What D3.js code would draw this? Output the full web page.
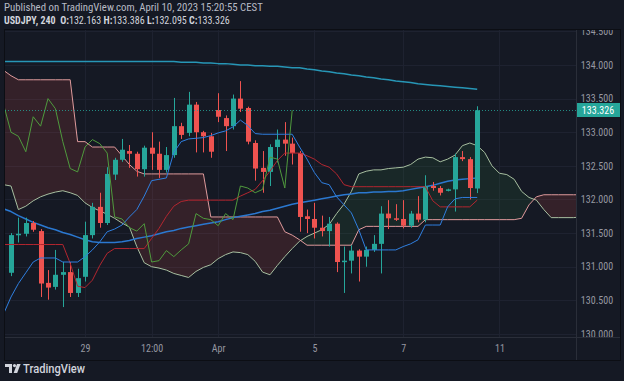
<!DOCTYPE html>
<html>
<head>
<meta charset="utf-8">
<script src="https://cdn.jsdelivr.net/npm/d3@7"></script>
<style>
  html, body { margin: 0; padding: 0; background: #151924; }
  svg { display: block; }
</style>
</head>
<body>
<svg width="624" height="381"></svg>
<script>
(function (d3) {
  'use strict';

  // candles, index 0..63 (4h bars)
  const opens = [130.91, 131.47, 131.49, 131.65, 131.53, 130.76, 130.70, 130.88, 130.92, 130.61,
    130.85, 131.47, 131.89, 131.65, 132.37, 132.59, 132.72, 132.68, 132.45, 132.77,
    132.68, 132.44, 132.66, 133.09, 132.99, 133.41, 133.00, 132.94, 133.33, 133.21,
    133.09, 133.50, 133.36, 132.84, 132.47, 132.41, 132.78, 132.89, 132.83, 132.69,
    131.75, 131.71, 131.58, 131.53, 131.64, 131.07, 131.09, 131.24, 131.15, 131.25,
    131.34, 131.79, 131.72, 131.71, 131.61, 131.79, 131.70, 132.20, 132.17, 132.13,
    132.15, 132.63, 132.60, 132.163];
  const highs = [131.50, 131.73, 131.73, 131.68, 131.56, 130.95, 131.25, 131.07, 131.07, 130.97,
    131.67, 131.95, 132.10, 132.48, 132.62, 132.90, 132.81, 132.71, 132.80, 133.00,
    132.86, 132.78, 133.51, 133.14, 133.60, 133.45, 133.02, 132.99, 133.58, 133.25,
    133.56, 133.76, 133.38, 132.88, 132.72, 132.82, 133.04, 133.15, 132.92, 132.72,
    131.85, 131.95, 131.76, 131.74, 131.66, 131.30, 131.32, 131.26, 131.30, 131.47,
    131.90, 131.99, 131.93, 131.99, 131.83, 132.05, 132.36, 132.26, 132.20, 132.16,
    132.68, 132.72, 132.63, 133.386];
  const lows = [130.86, 131.36, 131.45, 131.52, 130.55, 130.51, 130.66, 130.40, 130.55, 130.55,
    130.78, 131.42, 131.58, 131.62, 132.29, 132.56, 132.47, 132.34, 132.34, 132.44,
    132.32, 132.40, 132.62, 132.90, 132.94, 132.70, 132.70, 132.62, 133.15, 132.72,
    133.04, 133.30, 132.82, 132.28, 132.10, 132.20, 132.55, 132.65, 132.52, 131.52,
    131.50, 131.42, 131.45, 131.30, 130.92, 130.61, 130.90, 130.78, 131.00, 131.22,
    130.90, 131.56, 131.68, 131.57, 131.58, 131.66, 131.66, 132.13, 132.06, 132.12,
    131.82, 132.57, 132.00, 132.095];
  const closes = [131.47, 131.49, 131.65, 131.55, 130.75, 130.69, 130.88, 130.92, 130.61, 130.83,
    131.47, 131.89, 131.65, 132.38, 132.59, 132.74, 132.68, 132.45, 132.77, 132.68,
    132.44, 132.66, 133.09, 132.96, 133.41, 133.00, 132.94, 132.71, 133.23, 133.09,
    133.50, 133.35, 132.86, 132.46, 132.41, 132.78, 132.89, 132.83, 132.69, 131.74,
    131.71, 131.58, 131.53, 131.64, 131.07, 131.09, 131.24, 131.15, 131.25, 131.34,
    131.79, 131.72, 131.70, 131.61, 131.79, 131.70, 132.20, 132.17, 132.10, 132.15,
    132.63, 132.60, 132.17, 133.326];

  // indicator lines start one bar left of the first candle
  const lineStart = -1;
  const tenkan = [130.30, 130.55, 130.75, 130.91, 131.07, 131.13, 131.13, 131.13, 131.07, 131.07,
    131.07, 131.15, 131.25, 131.37, 131.52, 131.56, 131.62, 131.74, 131.85, 132.05,
    132.28, 132.30, 132.32, 132.70, 132.86, 132.90, 132.91, 132.92, 132.95, 132.99,
    133.02, 133.08, 133.18, 133.10, 132.98, 132.97, 132.97, 132.97, 132.97, 132.97,
    132.78, 132.60, 132.40, 132.25, 132.22, 132.04, 131.92, 131.80, 131.55, 131.25,
    131.25, 131.25, 131.25, 131.25, 131.30, 131.34, 131.40, 131.62, 131.62, 131.62,
    131.89, 132.01, 132.03, 132.03, 132.03];
  const kijun = [131.33, 131.33, 131.33, 131.33, 131.33, 131.33, 131.33, 131.33, 131.33, 131.05,
    130.71, 130.69, 130.80, 131.02, 131.20, 131.27, 131.27, 131.27, 131.27, 131.27,
    131.42, 131.57, 131.75, 131.90, 131.97, 131.99, 131.99, 131.99, 131.99, 131.99,
    131.99, 131.99, 132.05, 132.10, 132.15, 132.28, 132.42, 132.58, 132.69, 132.69,
    132.69, 132.65, 132.60, 132.52, 132.48, 132.38, 132.22, 132.19, 132.19, 132.19,
    132.19, 132.19, 132.19, 132.19, 132.19, 132.19, 132.19, 132.19, 131.98, 131.89,
    131.89, 131.89, 131.89, 131.89, 131.99];
  const spanA = [132.22, 132.20, 131.85, 131.90, 131.98, 132.04, 132.08, 132.11, 132.13, 132.10,
    132.06, 131.95, 131.88, 131.83, 131.78, 131.72, 131.65, 131.59, 131.30, 131.06,
    131.00, 130.98, 130.95, 130.90, 130.87, 130.84, 130.93, 130.99, 131.03, 131.12,
    131.18, 131.22, 131.21, 131.18, 131.08, 130.92, 130.88, 131.02, 131.15, 131.27,
    131.38, 131.45, 131.50, 131.55, 131.63, 131.79, 131.93, 132.12, 132.38, 132.42,
    132.44, 132.44, 132.46, 132.47, 132.48, 132.52, 132.60, 132.63, 132.62, 132.56,
    132.60, 132.66, 132.80, 132.84, 132.80, 132.70, 132.50, 132.39, 132.37, 132.30,
    132.12, 132.03, 131.99, 131.85, 131.73, 131.73, 131.73, 131.73, 131.74];
  const spanB = [133.92, 133.84, 133.78, 133.78, 133.78, 133.78, 133.78, 133.78, 133.78, 133.78,
    132.86, 132.86, 132.78, 132.78, 132.78, 132.78, 132.65, 132.52, 132.42, 132.38,
    132.38, 132.38, 132.38, 132.38, 132.38, 132.38, 132.38, 132.38, 131.74, 131.74,
    131.74, 131.74, 131.74, 131.74, 131.74, 131.74, 131.74, 131.74, 131.52, 131.47,
    131.40, 131.32, 131.32, 131.32, 131.32, 131.32, 131.32, 131.32, 131.55, 131.60,
    131.60, 131.60, 131.60, 131.60, 131.60, 131.60, 131.60, 131.70, 131.70, 131.70,
    131.70, 131.70, 131.70, 131.70, 131.70, 131.70, 131.70, 131.70, 131.70, 131.70,
    131.72, 131.92, 132.04, 132.07, 132.07, 132.07, 132.07, 132.07, 132.07];
  const ma50 = [131.86, 131.82, 131.76, 131.71, 131.66, 131.62, 131.58, 131.55, 131.51, 131.48,
    131.44, 131.40, 131.37, 131.36, 131.36, 131.36, 131.37, 131.39, 131.42, 131.44,
    131.46, 131.49, 131.52, 131.54, 131.57, 131.59, 131.61, 131.63, 131.65, 131.67,
    131.70, 131.73, 131.75, 131.77, 131.79, 131.82, 131.84, 131.87, 131.90, 131.93,
    131.95, 131.97, 131.99, 132.01, 132.03, 132.05, 132.07, 132.08, 132.10, 132.10,
    132.11, 132.11, 132.12, 132.12, 132.13, 132.15, 132.17, 132.19, 132.21, 132.24,
    132.27, 132.29, 132.30, 132.31, 132.32];
  const ma200 = [134.05, 134.05, 134.05, 134.05, 134.05, 134.05, 134.05, 134.05, 134.05, 134.05,
    134.05, 134.05, 134.05, 134.05, 134.05, 134.05, 134.05, 134.05, 134.05, 134.05,
    134.05, 134.05, 134.05, 134.05, 134.04, 134.04, 134.04, 134.03, 134.03, 134.02,
    134.02, 134.01, 134.00, 134.00, 133.99, 133.99, 133.98, 133.98, 133.97, 133.96,
    133.96, 133.94, 133.93, 133.91, 133.90, 133.88, 133.87, 133.85, 133.84, 133.82,
    133.81, 133.79, 133.78, 133.76, 133.75, 133.74, 133.72, 133.71, 133.70, 133.69,
    133.68, 133.67, 133.66, 133.65, 133.64];
  const laggingShift = 25;

  const priceTicks = [130, 130.5, 131, 131.5, 132, 132.5, 133, 133.5, 134, 134.5];
  const timeTickIndex = [10, 19, 28, 41, 53, 66];
  const timeTickLabels = ['29', '12:00', 'Apr', '5', '7', '11'];
  const lastPrice = 133.326;

  const svg = d3.select('svg');
  const width = +svg.attr('width');
  const height = +svg.attr('height');

  const plot = { left: 5, right: 576, top: 30, bottom: 337 };
  const axisFont = '"Liberation Sans Narrow", "Roboto Condensed", Roboto, sans-serif';
  const upColor = '#26a69a';
  const downColor = '#ef5350';
  const fmt = d3.format('.3f');

  const x = d3.scaleLinear().domain([0, 63]).range([11, 477.2]);
  const y = d3.scaleLinear().domain([129.955, 134.52]).range([337, 30]);

  svg.append('rect')
    .attr('width', width).attr('height', height)
    .attr('fill', '#151924');

  const defs = svg.append('defs');
  defs.append('clipPath').attr('id', 'plot-clip')
    .append('rect')
      .attr('x', plot.left).attr('y', plot.top)
      .attr('width', plot.right - plot.left)
      .attr('height', plot.bottom - plot.top);
  defs.append('clipPath').attr('id', 'axis-clip')
    .append('rect')
      .attr('x', plot.right).attr('y', plot.top)
      .attr('width', 44).attr('height', plot.bottom - plot.top);

  const toPoints = arr => arr.map((v, i) => ({ i: i + lineStart, v }));

  const cloud = spanA.map((a, i) => ({ i: i + lineStart, a, b: spanB[i] }));
  defs.append('clipPath').attr('id', 'above-b')
    .append('path')
      .attr('d', d3.area().x(d => x(d.i)).y0(0).y1(d => y(d.b))(cloud));
  defs.append('clipPath').attr('id', 'below-b')
    .append('path')
      .attr('d', d3.area().x(d => x(d.i)).y0(d => y(d.b)).y1(height)(cloud));

  // grid
  const grid = svg.append('g');
  grid.selectAll('line.h')
    .data(priceTicks)
    .enter().append('line')
      .attr('x1', plot.left).attr('x2', plot.right)
      .attr('y1', d => Math.round(y(d)) + 0.5)
      .attr('y2', d => Math.round(y(d)) + 0.5)
      .attr('stroke', '#1e2230');
  grid.selectAll('line.v')
    .data(timeTickIndex)
    .enter().append('line')
      .attr('x1', d => Math.round(x(d)) + 0.5)
      .attr('x2', d => Math.round(x(d)) + 0.5)
      .attr('y1', plot.top).attr('y2', plot.bottom)
      .attr('stroke', '#1e2230');

  const g = svg.append('g').attr('clip-path', 'url(#plot-clip)');

  // ichimoku cloud
  const cloudArea = d3.area()
    .x(d => x(d.i))
    .y0(d => y(d.a))
    .y1(d => y(d.b));
  g.append('path')
    .attr('d', cloudArea(cloud))
    .attr('fill', 'rgba(67, 160, 71, 0.11)')
    .attr('clip-path', 'url(#above-b)');
  g.append('path')
    .attr('d', cloudArea(cloud))
    .attr('fill', 'rgba(239, 83, 80, 0.14)')
    .attr('clip-path', 'url(#below-b)');

  const line = d3.line().x(d => x(d.i)).y(d => y(d.v));
  const drawLine = (data, color, w) => g.append('path')
    .attr('d', line(data))
    .attr('fill', 'none')
    .attr('stroke', color)
    .attr('stroke-width', w)
    .attr('stroke-linejoin', 'round');

  drawLine(toPoints(spanA), '#a7bfa0', 1);
  drawLine(toPoints(spanB), '#df9a9c', 1);
  drawLine(toPoints(ma200), '#2796b6', 1.5);
  drawLine(toPoints(ma50), '#2b78d0', 1.5);

  // candles
  const candles = closes.map((c, i) => ({ i, o: opens[i], h: highs[i], l: lows[i], c }));
  const cg = g.append('g');
  cg.selectAll('line')
    .data(candles)
    .enter().append('line')
      .attr('x1', d => Math.round(x(d.i)) + 0.5)
      .attr('x2', d => Math.round(x(d.i)) + 0.5)
      .attr('y1', d => y(d.h))
      .attr('y2', d => y(d.l))
      .attr('stroke', d => d.c >= d.o ? upColor : downColor);
  cg.selectAll('rect')
    .data(candles)
    .enter().append('rect')
      .attr('x', d => Math.round(x(d.i)) - 2)
      .attr('width', 5)
      .attr('y', d => y(Math.max(d.o, d.c)))
      .attr('height', d => Math.max(1.5, Math.abs(y(d.o) - y(d.c))))
      .attr('fill', d => d.c >= d.o ? upColor : downColor);

  const lagging = d3.range(lineStart, closes.length - laggingShift)
    .map(i => ({ i, v: closes[i + laggingShift] }));

  drawLine(toPoints(kijun), '#b3262f', 1);
  drawLine(toPoints(tenkan), '#2f7fe0', 1);
  drawLine(lagging, '#4f9a3d', 1);

  // last price line
  g.append('line')
    .attr('x1', plot.left).attr('x2', plot.right)
    .attr('y1', Math.round(y(lastPrice)) + 0.5)
    .attr('y2', Math.round(y(lastPrice)) + 0.5)
    .attr('stroke', upColor)
    .attr('stroke-opacity', 0.8)
    .attr('stroke-dasharray', '1,2');

  // frame and separators
  const frame = svg.append('g').attr('fill', 'none');
  frame.append('rect')
    .attr('x', 4.5).attr('y', 29.5)
    .attr('width', 616).attr('height', 331)
    .attr('stroke', '#0c0e14');
  frame.append('line')
    .attr('x1', plot.right + 0.5).attr('x2', plot.right + 0.5)
    .attr('y1', plot.top).attr('y2', 360)
    .attr('stroke', '#2a2e39');
  frame.append('line')
    .attr('x1', plot.left).attr('x2', 620)
    .attr('y1', plot.bottom + 0.5).attr('y2', plot.bottom + 0.5)
    .attr('stroke', '#2a2e39');

  // price axis (labels clipped to the pane, as the edge ones are cut)
  const yAxis = svg.append('g')
    .attr('clip-path', 'url(#axis-clip)')
    .append('g')
      .attr('transform', `translate(${plot.right}, 0)`)
      .call(d3.axisRight(y)
        .tickValues(priceTicks)
        .tickFormat(fmt)
        .tickSize(0)
        .tickPadding(0));
  yAxis.select('.domain').remove();
  yAxis.selectAll('text')
    .attr('x', 21)
    .attr('text-anchor', 'middle')
    .attr('fill', '#9598a1')
    .attr('font-size', 10)
    .attr('font-family', axisFont);

  const tag = svg.append('g')
    .attr('transform', `translate(${plot.right + 1}, ${Math.round(y(lastPrice))})`);
  tag.append('rect')
    .attr('x', 0).attr('y', -7)
    .attr('width', 43).attr('height', 14)
    .attr('fill', upColor);
  tag.append('text')
    .attr('x', 21).attr('y', 3.5)
    .attr('text-anchor', 'middle')
    .attr('fill', '#ffffff')
    .attr('font-size', 10)
    .attr('font-family', axisFont)
    .text(fmt(lastPrice));

  // time axis
  const xAxis = svg.append('g')
    .attr('transform', `translate(0, ${plot.bottom})`)
    .call(d3.axisBottom(x)
      .tickValues(timeTickIndex)
      .tickFormat((d, i) => timeTickLabels[i])
      .tickSize(0)
      .tickPadding(8));
  xAxis.select('.domain').remove();
  xAxis.selectAll('text')
    .attr('fill', '#9598a1')
    .attr('font-size', 10)
    .attr('font-family', axisFont);

  // header
  svg.append('text')
    .attr('x', 4).attr('y', 11)
    .attr('fill', '#b8bbc4')
    .attr('font-size', 10.8)
    .attr('font-family', axisFont)
    .text('Published on TradingView.com, April 10, 2023 15:20:55 CEST');

  const last = opens.length - 1;
  const legendParts = [
    ['USDJPY, 240', true], ['  O:', true], [fmt(opens[last]), false],
    [' H:', true], [fmt(highs[last]), false],
    [' L:', true], [fmt(lows[last]), false],
    [' C:', true], [fmt(closes[last]), false]
  ];
  svg.append('text')
    .attr('x', 4).attr('y', 24)
    .attr('fill', '#d1d4dc')
    .attr('font-size', 10)
    .attr('font-family', axisFont)
    .attr('xml:space', 'preserve')
    .style('white-space', 'pre')
    .selectAll('tspan')
    .data(legendParts)
    .enter().append('tspan')
      .attr('font-weight', d => d[1] ? 700 : 400)
      .text(d => d[0]);

  // footer logo
  const logo = svg.append('g').attr('fill', '#d1d4dc');
  logo.append('path').attr('d', 'M5 364 h7 v9 h-3 v-6 h-4 z');
  logo.append('circle').attr('cx', 14.5).attr('cy', 365.6).attr('r', 1.6);
  logo.append('path').attr('d', 'M17 364 h3.6 l-3.4 9 h-3.6 z');
  svg.append('text')
    .attr('x', 23).attr('y', 373)
    .attr('fill', '#d1d4dc')
    .attr('font-size', 12.5)
    .attr('font-weight', 500)
    .attr('font-family', 'Roboto, sans-serif')
    .attr('textLength', 62)
    .attr('lengthAdjust', 'spacingAndGlyphs')
    .text('TradingView');

}(d3));
</script>
</body>
</html>
